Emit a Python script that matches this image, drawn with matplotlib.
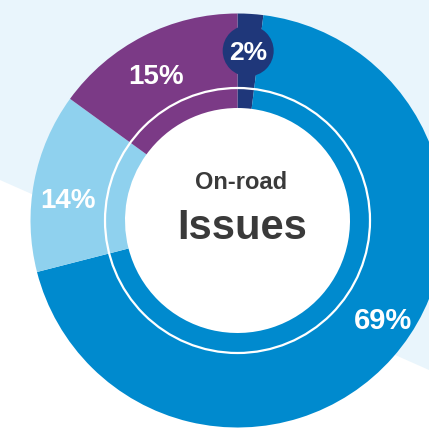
import numpy as np
import matplotlib
matplotlib.use("Agg")
import matplotlib.pyplot as plt
from matplotlib.patches import Circle, Polygon

# ---- data ----
categories = ["Category A", "Category B", "Category C", "Category D"]
values = [2, 69, 14, 15]
labels = ["2%", "69%", "14%", "15%"]
colors = ["#1f377a", "#008ace", "#8fd1ee", "#7b3a86"]
center_line1 = "On-road"
center_line2 = "Issues"

W, H = 429, 430
fig = plt.figure(figsize=(W / 100, H / 100), dpi=100)
fig.patch.set_facecolor("white")
ax = fig.add_axes([0, 0, 1, 1])

# background light-blue band (pixel coords, y from top converted)
def P(x, y):
    return (x, H - y)

bg = Polygon([P(0, 0), P(0, 180), P(W, 370), P(W, 0)], closed=True,
             facecolor="#e9f5fc", edgecolor="none", zorder=0)
ax.add_patch(bg)

cx, cy = P(237.5, 220.5)
R_out = 207
R_in = 112.5

# white centre disk
ax.add_patch(Circle((cx, cy), R_in + 1, facecolor="white", edgecolor="none", zorder=1))

wedges, _ = ax.pie(values, colors=colors, startangle=90, counterclock=False,
                   radius=R_out, center=(cx, cy),
                   wedgeprops=dict(width=R_out - R_in, linewidth=0, edgecolor="none"))
for w in wedges:
    w.set_zorder(2)

# white ring inside donut
ax.add_patch(Circle((cx, cy), 132.5, fill=False, edgecolor="white", linewidth=1.6, zorder=3))

# badge circle for the small slice
mid0 = 90 - values[0] / sum(values) * 360 / 2
bx = cx + 170 * np.cos(np.radians(mid0))
by = cy + 170 * np.sin(np.radians(mid0))
ax.add_patch(Circle((bx, by), 25.5, facecolor=colors[0], edgecolor="none", zorder=4))

font = "Liberation Sans"
label_pos = {"2%": (248, 60), "69%": (383, 329), "14%": (67.5, 208), "15%": (156, 84)}
label_size = {"2%": 19, "69%": 21, "14%": 20, "15%": 20}
for lab in labels:
    x, y = P(*label_pos[lab])
    ax.text(x, y, lab, ha="center", va="baseline", color="white",
            fontsize=label_size[lab], fontweight="bold", family=font, zorder=5)

x, y = P(241.5, 189)
ax.text(x, y, center_line1, ha="center", va="baseline", color="#3a3a3a",
        fontsize=17, fontweight="bold", family=font, zorder=5)
x, y = P(242, 239)
ax.text(x, y, center_line2, ha="center", va="baseline", color="#3a3a3a",
        fontsize=30, fontweight="bold", family=font, zorder=5)

ax.set_xlim(0, W)
ax.set_ylim(0, H)
ax.set_aspect("auto")
ax.axis("off")

fig.savefig("out.png", dpi=100, facecolor="white")
